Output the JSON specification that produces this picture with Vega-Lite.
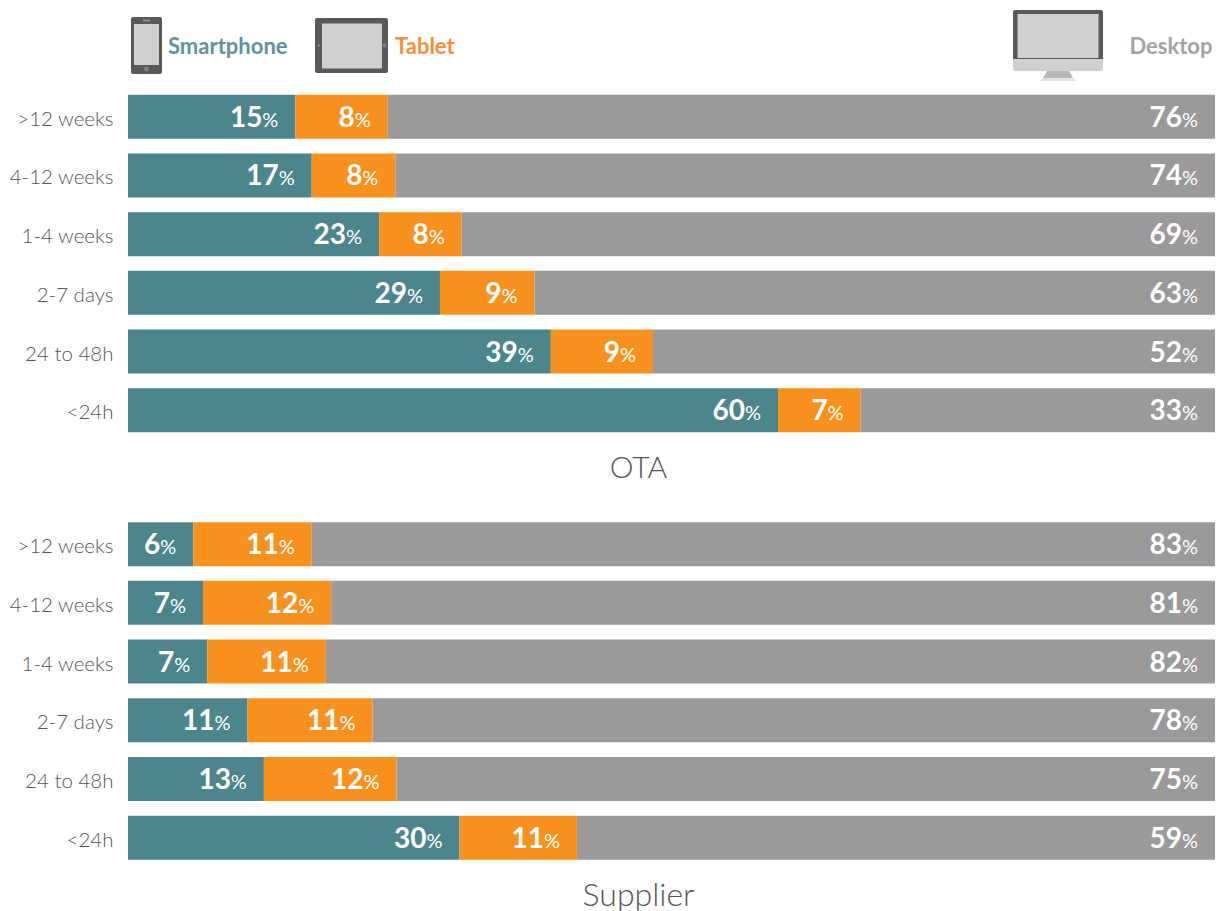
{
"$schema":"https://vega.github.io/schema/vega-lite/v6.json",
"padding":{"left":8,"top":0,"right":0,"bottom":0},
"background":"white",
"bounds":"flush",
"spacing":74.4,
"resolve":{"scale":{"color":"independent"}},
"config":{"view":{"stroke":null},"font":"Lato"},
"datasets":{
"bars":[
{"panel":"OTA","period":">12 weeks","device":"Smartphone","order":1,"value":15.4,"label":"15"},
{"panel":"OTA","period":">12 weeks","device":"Tablet","order":2,"value":8.5,"label":"8"},
{"panel":"OTA","period":">12 weeks","device":"Desktop","order":3,"value":76.1,"label":"76"},
{"panel":"OTA","period":"4-12 weeks","device":"Smartphone","order":1,"value":16.9,"label":"17"},
{"panel":"OTA","period":"4-12 weeks","device":"Tablet","order":2,"value":7.7,"label":"8"},
{"panel":"OTA","period":"4-12 weeks","device":"Desktop","order":3,"value":75.4,"label":"74"},
{"panel":"OTA","period":"1-4 weeks","device":"Smartphone","order":1,"value":23.1,"label":"23"},
{"panel":"OTA","period":"1-4 weeks","device":"Tablet","order":2,"value":7.6,"label":"8"},
{"panel":"OTA","period":"1-4 weeks","device":"Desktop","order":3,"value":69.3,"label":"69"},
{"panel":"OTA","period":"2-7 days","device":"Smartphone","order":1,"value":28.7,"label":"29"},
{"panel":"OTA","period":"2-7 days","device":"Tablet","order":2,"value":8.7,"label":"9"},
{"panel":"OTA","period":"2-7 days","device":"Desktop","order":3,"value":62.6,"label":"63"},
{"panel":"OTA","period":"24 to 48h","device":"Smartphone","order":1,"value":38.9,"label":"39"},
{"panel":"OTA","period":"24 to 48h","device":"Tablet","order":2,"value":9.4,"label":"9"},
{"panel":"OTA","period":"24 to 48h","device":"Desktop","order":3,"value":51.7,"label":"52"},
{"panel":"OTA","period":"<24h","device":"Smartphone","order":1,"value":59.8,"label":"60"},
{"panel":"OTA","period":"<24h","device":"Tablet","order":2,"value":7.6,"label":"7"},
{"panel":"OTA","period":"<24h","device":"Desktop","order":3,"value":32.6,"label":"33"},
{"panel":"Supplier","period":">12 weeks","device":"Smartphone","order":1,"value":6.0,"label":"6"},
{"panel":"Supplier","period":">12 weeks","device":"Tablet","order":2,"value":10.9,"label":"11"},
{"panel":"Supplier","period":">12 weeks","device":"Desktop","order":3,"value":83.1,"label":"83"},
{"panel":"Supplier","period":"4-12 weeks","device":"Smartphone","order":1,"value":6.9,"label":"7"},
{"panel":"Supplier","period":"4-12 weeks","device":"Tablet","order":2,"value":11.8,"label":"12"},
{"panel":"Supplier","period":"4-12 weeks","device":"Desktop","order":3,"value":81.3,"label":"81"},
{"panel":"Supplier","period":"1-4 weeks","device":"Smartphone","order":1,"value":7.3,"label":"7"},
{"panel":"Supplier","period":"1-4 weeks","device":"Tablet","order":2,"value":10.9,"label":"11"},
{"panel":"Supplier","period":"1-4 weeks","device":"Desktop","order":3,"value":81.8,"label":"82"},
{"panel":"Supplier","period":"2-7 days","device":"Smartphone","order":1,"value":11.0,"label":"11"},
{"panel":"Supplier","period":"2-7 days","device":"Tablet","order":2,"value":11.5,"label":"11"},
{"panel":"Supplier","period":"2-7 days","device":"Desktop","order":3,"value":77.5,"label":"78"},
{"panel":"Supplier","period":"24 to 48h","device":"Smartphone","order":1,"value":12.5,"label":"13"},
{"panel":"Supplier","period":"24 to 48h","device":"Tablet","order":2,"value":12.2,"label":"12"},
{"panel":"Supplier","period":"24 to 48h","device":"Desktop","order":3,"value":75.3,"label":"75"},
{"panel":"Supplier","period":"<24h","device":"Smartphone","order":1,"value":30.5,"label":"30"},
{"panel":"Supplier","period":"<24h","device":"Tablet","order":2,"value":10.8,"label":"11"},
{"panel":"Supplier","period":"<24h","device":"Desktop","order":3,"value":58.7,"label":"59"}
],
"icons":[
{"device":"Smartphone","part":"phone body"},
{"device":"Smartphone","part":"phone screen"},
{"device":"Smartphone","part":"phone speaker"},
{"device":"Smartphone","part":"phone button"},
{"device":"Tablet","part":"tablet body"},
{"device":"Tablet","part":"tablet screen"},
{"device":"Tablet","part":"tablet button"},
{"device":"Tablet","part":"tablet camera"},
{"device":"Desktop","part":"desktop chin"},
{"device":"Desktop","part":"desktop frame"},
{"device":"Desktop","part":"desktop screen"},
{"device":"Desktop","part":"desktop stand"},
{"device":"Desktop","part":"desktop base"}
],
"names":[{"device":"Smartphone"},{"device":"Tablet"},{"device":"Desktop"}]
},
"vconcat":[
{"width":1087,"height":13,
"layer":[
{"data":{"name":"icons"},
"encoding":{
"shape":{"field":"part","type":"nominal","legend":null,"scale":{
"domain":["phone body","phone screen","phone speaker","phone button","tablet body","tablet screen","tablet button","tablet camera","desktop chin","desktop frame","desktop screen","desktop stand","desktop base"],
"range":[
"M-0.27,-0.57H0.27Q0.31,-0.57 0.31,-0.53V0.53Q0.31,0.57 0.27,0.57H-0.27Q-0.31,0.57 -0.31,0.53V-0.53Q-0.31,-0.57 -0.27,-0.57Z",
"M-0.25,-0.43H0.25V0.39H-0.25Z",
"M-0.07,-0.52H0.07V-0.48H-0.07Z",
"M-0.05,0.47A0.05,0.05 0 1 0 0.05,0.47A0.05,0.05 0 1 0 -0.05,0.47Z",
"M-0.69,-0.55H0.69Q0.73,-0.55 0.73,-0.51V0.51Q0.73,0.55 0.69,0.55H-0.69Q-0.73,0.55 -0.73,0.51V-0.51Q-0.73,-0.55 -0.69,-0.55Z",
"M-0.59,-0.44H0.61V0.46H-0.59Z",
"M0.62,0A0.04,0.04 0 1 0 0.70,0A0.04,0.04 0 1 0 0.62,0Z",
"M-0.67,0A0.015,0.015 0 1 0 -0.64,0A0.015,0.015 0 1 0 -0.67,0Z",
"M-0.9,0.2H0.9V0.47Q0.9,0.51 0.86,0.51H-0.86Q-0.9,0.51 -0.9,0.47Z",
"M-0.86,-0.71H0.86Q0.9,-0.71 0.9,-0.67V0.27H-0.9V-0.67Q-0.9,-0.71 -0.86,-0.71Z",
"M-0.81,-0.63H0.81V0.25H-0.81Z",
"M-0.22,0.51H0.22L0.3,0.65H-0.3Z",
"M-0.3,0.65H0.3L0.37,0.71H-0.37Z"
]}},
"fill":{"field":"part","type":"nominal","legend":null,"scale":{
"domain":["phone body","phone screen","phone speaker","phone button","tablet body","tablet screen","tablet button","tablet camera","desktop chin","desktop frame","desktop screen","desktop stand","desktop base"],
"range":["#58595b","#d1cfcf","#8e8e8e","#808080","#58595b","#d1cfcf","#808080","#d1cfcf","#d1cfcf","#58595b","#d1cfcf","#b9b8b8","#e2e1e1"]}}
},
"layer":[
{"mark":{"type":"point","filled":true,"size":10000,"opacity":1,"strokeWidth":0,"yOffset":39},"transform":[{"filter":"datum.device==='Smartphone'"}],"encoding":{"x":{"datum":1.7,"type":"quantitative","scale":{"domain":[0,100]},"axis":null}}},
{"mark":{"type":"point","filled":true,"size":10000,"opacity":1,"strokeWidth":0,"yOffset":39},"transform":[{"filter":"datum.device==='Tablet'"}],"encoding":{"x":{"datum":20.56,"type":"quantitative","scale":{"domain":[0,100]},"axis":null}}},
{"mark":{"type":"point","filled":true,"size":10000,"opacity":1,"strokeWidth":0,"yOffset":39},"transform":[{"filter":"datum.device==='Desktop'"}],"encoding":{"x":{"datum":85.56,"type":"quantitative","scale":{"domain":[0,100]},"axis":null}}}
]},
{"data":{"name":"names"},
"encoding":{
"text":{"field":"device","type":"nominal"},
"color":{"field":"device","type":"nominal","legend":null,"scale":{"domain":["Smartphone","Tablet","Desktop"],"range":["#5f9299","#f78f3a","#a3a3a3"]}}
},
"layer":[
{"mark":{"type":"text","fontSize":22,"fontWeight":"bold","align":"left","baseline":"alphabetic","yOffset":47},"transform":[{"filter":"datum.device==='Smartphone'"}],"encoding":{"x":{"datum":3.68,"type":"quantitative","scale":{"domain":[0,100]},"axis":null}}},
{"mark":{"type":"text","fontSize":22,"fontWeight":"bold","align":"left","baseline":"alphabetic","yOffset":47},"transform":[{"filter":"datum.device==='Tablet'"}],"encoding":{"x":{"datum":24.56,"type":"quantitative","scale":{"domain":[0,100]},"axis":null}}},
{"mark":{"type":"text","fontSize":22,"fontWeight":"bold","align":"left","baseline":"alphabetic","yOffset":47},"transform":[{"filter":"datum.device==='Desktop'"}],"encoding":{"x":{"datum":92.13,"type":"quantitative","scale":{"domain":[0,100]},"axis":null}}}
]}
]},
{"width":1087,"height":352.2,
"data":{"name":"bars"},
"transform":[{"filter":"datum.panel==='OTA'"},{"stack":"value","groupby":["period"],"sort":[{"field":"order","order":"ascending"}],"as":["start","end"]}],
"encoding":{"y":{"field":"period","type":"nominal","title":null,"sort":[">12 weeks","4-12 weeks","1-4 weeks","2-7 days","24 to 48h","<24h"],"scale":{"paddingInner":0.25,"paddingOuter":0.125},"axis":{"ticks":false,"domain":false,"labelPadding":15,"labelFontSize":20.5,"labelFontWeight":300,"labelOffset":3,"labelColor":"#555555"}}},
"layer":[
{"mark":{"type":"bar"},"encoding":{
"x":{"field":"start","type":"quantitative","scale":{"domain":[0,100],"nice":false},"axis":{"domain":false,"ticks":false,"labels":false,"grid":false,"title":"OTA","titleX":510,"titleY":38,"titleFontSize":30,"titleFontWeight":300,"titleColor":"#555555","titleBaseline":"alphabetic","titleAnchor":"middle","titleAlign":"center"}},
"x2":{"field":"end"},
"color":{"field":"device","type":"nominal","legend":null,"scale":{"domain":["Smartphone","Tablet","Desktop"],"range":["#4d858d","#f9911e","#9b9999"]}}}},
{"mark":{"type":"text","fill":"white","fontSize":28,"fontWeight":"bold","align":"right","baseline":"alphabetic","dx":-33,"dy":10},"encoding":{"x":{"field":"end","type":"quantitative"},"text":{"field":"label"}}},
{"mark":{"type":"text","fill":"white","fontSize":20,"align":"right","baseline":"alphabetic","dx":-17,"dy":10,"text":"%"},"encoding":{"x":{"field":"end","type":"quantitative"}}}
]},
{"width":1087,"height":352.2,
"data":{"name":"bars"},
"transform":[{"filter":"datum.panel==='Supplier'"},{"stack":"value","groupby":["period"],"sort":[{"field":"order","order":"ascending"}],"as":["start","end"]}],
"encoding":{"y":{"field":"period","type":"nominal","title":null,"sort":[">12 weeks","4-12 weeks","1-4 weeks","2-7 days","24 to 48h","<24h"],"scale":{"paddingInner":0.25,"paddingOuter":0.125},"axis":{"ticks":false,"domain":false,"labelPadding":15,"labelFontSize":20.5,"labelFontWeight":300,"labelOffset":3,"labelColor":"#555555"}}},
"layer":[
{"mark":{"type":"bar"},"encoding":{
"x":{"field":"start","type":"quantitative","scale":{"domain":[0,100],"nice":false},"axis":{"domain":false,"ticks":false,"labels":false,"grid":false,"title":"Supplier","titleX":510,"titleY":38,"titleFontSize":32,"titleFontWeight":300,"titleColor":"#555555","titleBaseline":"alphabetic","titleAnchor":"middle","titleAlign":"center"}},
"x2":{"field":"end"},
"color":{"field":"device","type":"nominal","legend":null,"scale":{"domain":["Smartphone","Tablet","Desktop"],"range":["#4d858d","#f9911e","#9b9999"]}}}},
{"mark":{"type":"text","fill":"white","fontSize":28,"fontWeight":"bold","align":"right","baseline":"alphabetic","dx":-33,"dy":10},"encoding":{"x":{"field":"end","type":"quantitative"},"text":{"field":"label"}}},
{"mark":{"type":"text","fill":"white","fontSize":20,"align":"right","baseline":"alphabetic","dx":-17,"dy":10,"text":"%"},"encoding":{"x":{"field":"end","type":"quantitative"}}}
]}
]
}
